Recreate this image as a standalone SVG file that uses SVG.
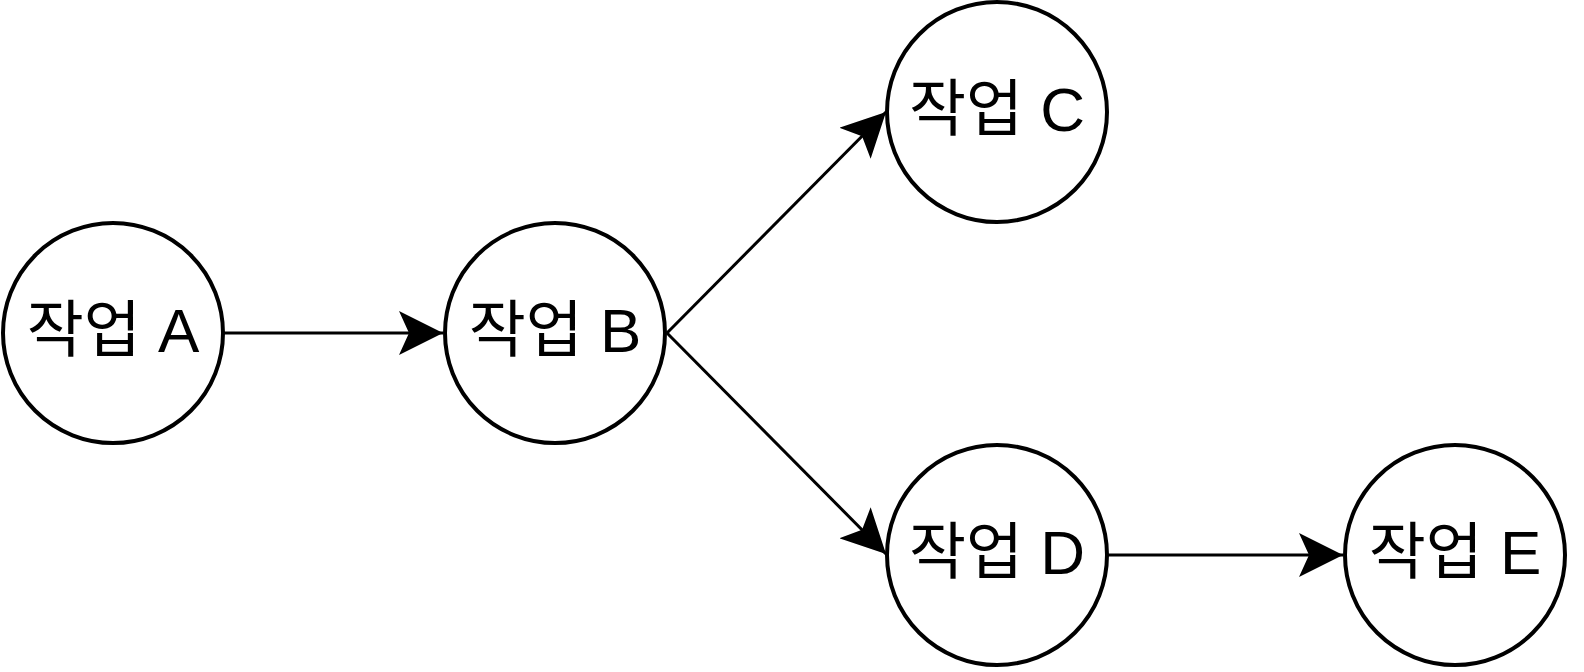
<svg xmlns="http://www.w3.org/2000/svg" width="1584" height="672" viewBox="0 0 1584 672">
<style>
.n circle{fill:#fff;stroke:#000;stroke-width:4}
.n text{font-family:"Liberation Sans","Noto Sans CJK KR",sans-serif;font-size:62px;text-anchor:middle;dominant-baseline:central}
.e line{stroke:#000;stroke-width:3}
</style>
<defs>
<marker id="ar" viewBox="0 0 44 44" refX="44" refY="22" markerWidth="44" markerHeight="44" markerUnits="userSpaceOnUse" orient="auto">
<path d="M0,0 L44,22 L0,44 L10,22 Z" fill="#000"/>
</marker>
</defs>
<g class="e">
<line x1="224" y1="333" x2="443" y2="333" marker-end="url(#ar)"/>
<line x1="667" y1="333" x2="886" y2="112" marker-end="url(#ar)"/>
<line x1="667" y1="333" x2="886" y2="554" marker-end="url(#ar)"/>
<line x1="1108" y1="555" x2="1343" y2="555" marker-end="url(#ar)"/>
</g>
<g id="A" class="n"><circle cx="113" cy="333" r="110"/><text x="113" y="330">작업 A</text></g>
<g id="B" class="n"><circle cx="555" cy="333" r="110"/><text x="555" y="330">작업 B</text></g>
<g id="C" class="n"><circle cx="997" cy="112" r="110"/><text x="997" y="109">작업 C</text></g>
<g id="D" class="n"><circle cx="997" cy="555" r="110"/><text x="997" y="552">작업 D</text></g>
<g id="E" class="n"><circle cx="1455" cy="555" r="110"/><text x="1455" y="552">작업 E</text></g>
</svg>
